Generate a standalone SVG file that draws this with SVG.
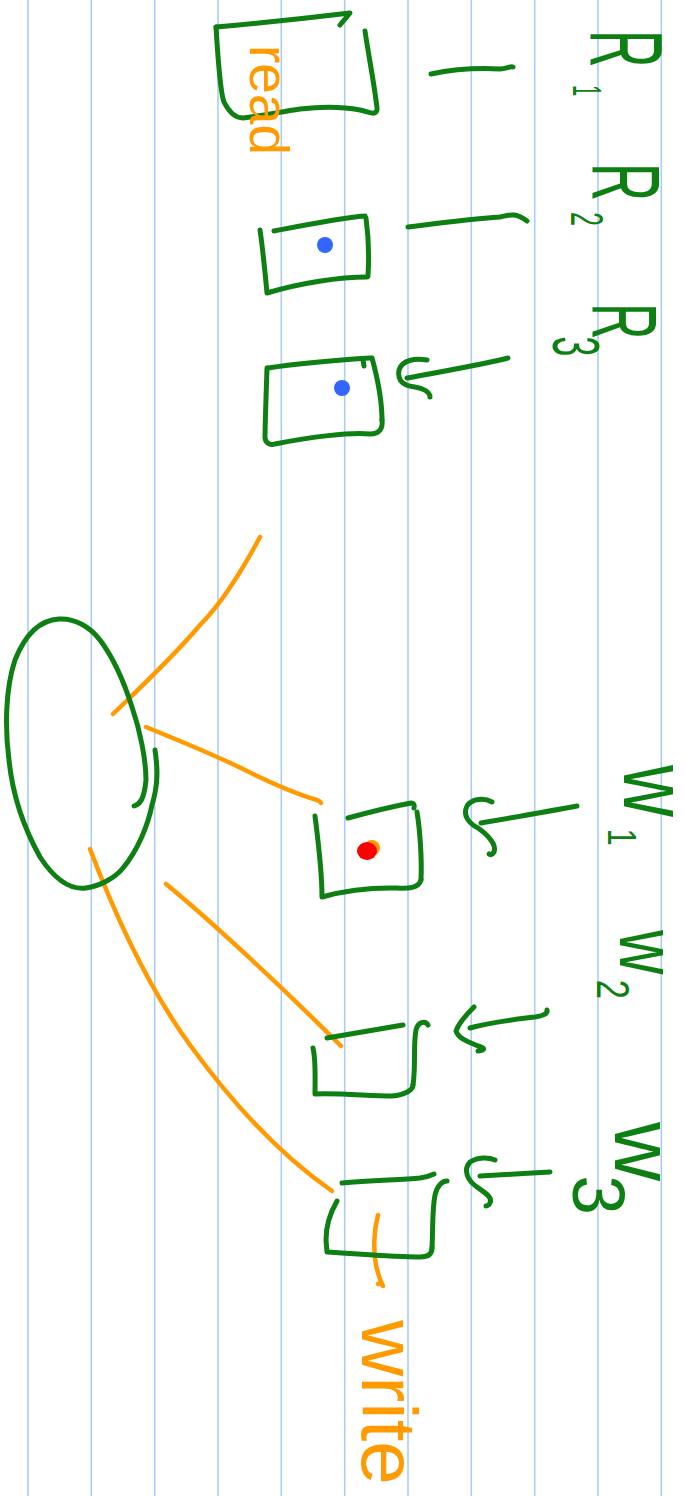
<svg xmlns="http://www.w3.org/2000/svg" width="685" height="1496" viewBox="0 0 685 1496">
<style>
.rule{stroke:#a9cdf7;stroke-width:1.6}
.g{fill:none;stroke:#0e7f12;stroke-width:5;stroke-linecap:round;stroke-linejoin:round}
.o{fill:none;stroke:#ff9a00;stroke-width:4.5;stroke-linecap:round;stroke-linejoin:round}
.gt{fill:#0e7f12;font-family:"Liberation Sans",Arial,sans-serif}
.ot{fill:#ff9a00;font-family:"Liberation Sans",Arial,sans-serif}
.blue{fill:#3366ff}
</style>
<rect width="685" height="1496" fill="#ffffff"/>
<g id="ruling">
<line class="rule" x1="28" y1="0" x2="28" y2="1496"/>
<line class="rule" x1="91.3" y1="0" x2="91.3" y2="1496"/>
<line class="rule" x1="154.7" y1="0" x2="154.7" y2="1496"/>
<line class="rule" x1="218" y1="0" x2="218" y2="1496"/>
<line class="rule" x1="281.3" y1="0" x2="281.3" y2="1496"/>
<line class="rule" x1="344.7" y1="0" x2="344.7" y2="1496"/>
<line class="rule" x1="408" y1="0" x2="408" y2="1496"/>
<line class="rule" x1="471.3" y1="0" x2="471.3" y2="1496"/>
<line class="rule" x1="534.7" y1="0" x2="534.7" y2="1496"/>
<line class="rule" x1="598" y1="0" x2="598" y2="1496"/>
<line class="rule" x1="661.3" y1="0" x2="661.3" y2="1496"/>
</g>

<g id="connectors">
<path class="g" d="M431,74 C455,69 480,68 500,69 C506,69 510,66 513,67"/>
<path class="g" d="M408,227 C440,223 470,219 500,217 C510,215 515,212 527,221"/>
<path class="g" d="M508,358 C480,365 440,372 407,378"/>
<path class="g" d="M427,360 C415,358 402,360 399,370 C397,382 405,386 415,387 C423,388 430,392 430,397"/>
<path class="g" d="M577,806 C545,812 510,818 481,823"/>
<path class="g" d="M492,802 C485,798 472,798 467,806 C462,816 470,824 478,828 C488,835 497,845 494,852 C492,855 490,855 489,854"/>
<path class="g" d="M547,1010 C548,1014 542,1016 535,1017 C510,1020 490,1022 470,1028"/>
<path class="g" d="M474,1007 C466,1015 458,1025 456,1031 C458,1038 468,1042 478,1046 C485,1048 486,1050 478,1051"/>
<path class="g" d="M550,1172 C530,1173 500,1175 480,1176"/>
<path class="g" d="M495,1160 C488,1157 478,1157 470,1162 C463,1170 467,1180 477,1187 C485,1193 493,1197 490,1203 C489,1205 487,1206 486,1206"/>
<path class="o" d="M260,537 C245,565 225,600 200,625 C175,655 140,688 113,714"/>
<path class="o" d="M146,727 C180,741 215,755 245,770 C275,785 300,795 317,800 C320,801 321,803 321,803"/>
<path class="o" d="M90,849 C115,915 150,990 190,1045 C230,1100 280,1155 332,1191"/>
<path class="o" d="M166,884 C210,920 280,985 341,1046"/>
<path class="o" d="M378,1215 C374,1230 373,1250 376,1265 C378,1275 381,1282 383,1286 C381,1284 379,1283 378,1284"/>
</g>

<g id="box-r1">
<path class="g" d="M216,27 C250,24 300,19 350,13 L340,25"/>
<path class="g" d="M216,27 C218,60 220,92 224,102 C229,112 236,118 243,118 C260,116 280,112 300,109 C325,106 345,107 360,110 C370,112 375,116 377,110"/>
<path class="g" d="M365,31 C368,52 374,82 377,108"/>
<text class="ot" font-size="55" transform="translate(250,45) rotate(90)">read</text>
</g>
<g id="box-r2">
<path class="g" d="M274,231 C300,226 340,218 365,216"/>
<path class="g" d="M260,230 C263,250 265,272 267,293 C300,283 340,277 367,277"/>
<path class="g" d="M366,218 C369,240 369,260 368,276"/>
<circle class="blue" cx="325" cy="245" r="8"/>
</g>
<g id="box-r3">
<path class="g" d="M268,368 C300,363 340,360 370,358"/>
<path class="g" d="M363,360 L364,366"/>
<path class="g" d="M267,368 C266,400 265,425 265,438 C266,445 272,445 275,444 C310,437 350,432 370,434 C380,434 383,428 382,420"/>
<path class="g" d="M372,358 C378,380 382,400 382,420"/>
<circle class="blue" cx="342" cy="388" r="8"/>
</g>

<g id="label-r1"><text class="gt" font-size="104" transform="translate(590,30) rotate(90) scale(0.5,1)">R<tspan font-size="40" dx="35" dy="17">1</tspan></text></g>
<g id="label-r2"><text class="gt" font-size="96" transform="translate(592,163) rotate(90) scale(0.55,1)">R<tspan font-size="46" dx="20" dy="21">2</tspan></text></g>
<g id="label-r3"><text class="gt" font-size="92" transform="translate(592,303) rotate(90) scale(0.55,1)">R<tspan font-size="66" dx="-6" dy="39">3</tspan></text></g>

<g id="node-ellipse">
<path class="g" d="M134,806 C140,804 144,800 146,780 C146,760 140,730 132,707 C125,685 115,660 100,640 C90,627 75,618 59,619 C40,620 25,635 15,660 C5,690 5,730 9,760 C13,800 25,830 40,857 C55,880 70,890 86,888 C100,886 115,878 123,868 C138,850 148,825 152,805 C158,785 158,770 155,750"/>
</g>

<g id="box-w1">
<path class="g" d="M348,818 C370,812 395,806 411,803 C414,803 415,806 414,808"/>
<path class="g" d="M315,816 C318,840 322,870 322,897 C340,892 365,888 390,888 C405,888 418,890 421,880"/>
<path class="g" d="M417,812 C420,830 422,860 421,880"/>
<ellipse cx="372" cy="848" rx="8" ry="8" fill="#ff9a00"/>
<ellipse cx="367" cy="851" rx="10" ry="9" fill="#ff0000"/>
</g>
<g id="box-w2">
<path class="g" d="M327,1038 C350,1034 380,1029 403,1025"/>
<path class="g" d="M313,1048 C316,1060 315,1080 315,1094 C340,1093 370,1096 392,1096 C405,1095 413,1090 413,1085"/>
<path class="g" d="M413,1085 C416,1065 413,1045 416,1030 C418,1022 425,1020 428,1025"/>
</g>
<g id="box-w3">
<path class="g" d="M342,1183 C370,1180 400,1180 420,1178 C427,1177 432,1175 434,1174"/>
<path class="g" d="M337,1201 C330,1213 326,1225 326,1240 L327,1252 C360,1254 395,1257 420,1257 C430,1257 432,1252 432,1248"/>
<path class="g" d="M432,1248 C433,1230 432,1210 435,1195 C437,1186 442,1181 447,1181"/>
<text class="ot" font-size="78" transform="translate(362,1320) rotate(90)">write</text>
</g>

<g id="label-w1"><text class="gt" font-size="92" transform="translate(624,765) rotate(90) scale(0.78,1)">w<tspan font-size="40" dx="15" dy="16">1</tspan></text></g>
<g id="label-w2"><text class="gt" font-size="82" transform="translate(620,930) rotate(90) scale(0.75,1)">w<tspan font-size="46" dx="7" dy="23">2</tspan></text></g>
<g id="label-w3"><text class="gt" font-size="86" transform="translate(615,1122) rotate(90) scale(0.95,1)">w<tspan font-size="75" dx="-6" dy="42">3</tspan></text></g>
</svg>
